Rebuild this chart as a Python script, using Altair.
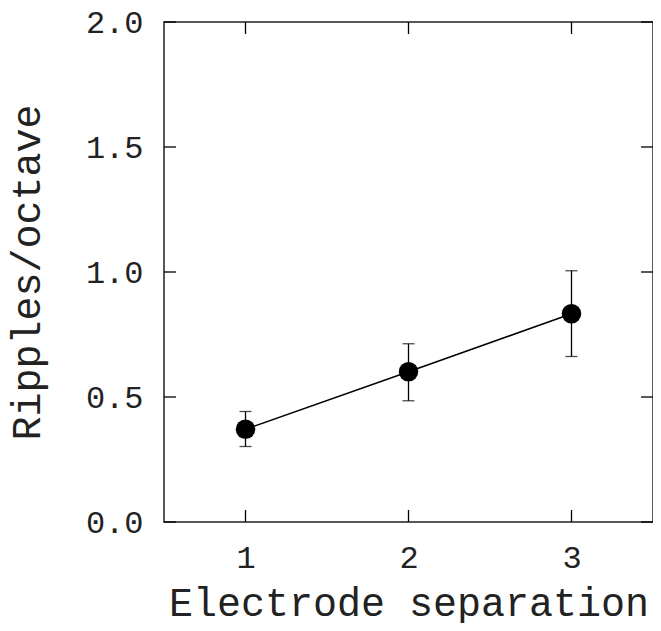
import altair as alt
import pandas as pd

# data
separation = [1, 2, 3]
ripples = [0.371, 0.601, 0.833]
err_low = [0.302, 0.485, 0.662]
err_high = [0.442, 0.713, 1.005]

y_ticks = [0.0, 0.5, 1.0, 1.5, 2.0]
x_ticks = [1, 2, 3]

df = pd.DataFrame({"sep": separation, "rpo": ripples, "lo": err_low, "hi": err_high})
ydf = pd.DataFrame({"v": y_ticks})
xdf = pd.DataFrame({"v": x_ticks})

FONT = "Courier New, Liberation Mono, monospace"
W, H = 489, 500
TL = 12

xscale = alt.Scale(domain=[0.5, 3.5], nice=False, zero=False)
yscale = alt.Scale(domain=[0.0, 2.0], nice=False, zero=False)

xaxis = alt.Axis(values=x_ticks, format="d", ticks=False, tickSize=0, domain=False, grid=False,
                 labelFont=FONT, labelFontSize=32, labelFontWeight="normal", labelColor="#222",
                 labelPadding=20,
                 title="Electrode separation", titleFont=FONT, titleFontSize=40,
                 titleFontWeight="normal", titleColor="#222", titleBaseline="alphabetic",
                 titleY=93)
yaxis = alt.Axis(values=y_ticks, format=".1f", ticks=False, tickSize=0, domain=False, grid=False,
                 labelFont=FONT, labelFontSize=32, labelFontWeight="normal", labelColor="#222",
                 labelPadding=21,
                 title="Ripples/octave", titleFont=FONT, titleFontSize=40,
                 titleFontWeight="normal", titleColor="#222", titleBaseline="alphabetic",
                 titleX=-125)

base = alt.Chart(df)

line = base.mark_line(color="black", strokeWidth=1.5).encode(
    x=alt.X("sep:Q", scale=xscale, axis=xaxis),
    y=alt.Y("rpo:Q", scale=yscale, axis=yaxis),
)
bars = base.mark_rule(color="black", strokeWidth=1.3).encode(
    x=alt.X("sep:Q", scale=xscale), y=alt.Y("lo:Q", scale=yscale), y2="hi:Q"
)
cap_lo = base.mark_tick(color="black", orient="horizontal", size=12, thickness=1.3).encode(
    x=alt.X("sep:Q", scale=xscale), y=alt.Y("lo:Q", scale=yscale)
)
cap_hi = base.mark_tick(color="black", orient="horizontal", size=12, thickness=1.3).encode(
    x=alt.X("sep:Q", scale=xscale), y=alt.Y("hi:Q", scale=yscale)
)
pts = base.mark_circle(color="black", size=380, opacity=1).encode(
    x=alt.X("sep:Q", scale=xscale), y=alt.Y("rpo:Q", scale=yscale)
)

yt = alt.Chart(ydf)
xt = alt.Chart(xdf)
tick_left = yt.mark_rule(color="black", strokeWidth=1.3).encode(
    y=alt.Y("v:Q", scale=yscale), x=alt.value(0), x2=alt.value(TL))
tick_right = yt.mark_rule(color="black", strokeWidth=1.3).encode(
    y=alt.Y("v:Q", scale=yscale), x=alt.value(W - TL), x2=alt.value(W))
tick_bot = xt.mark_rule(color="black", strokeWidth=1.3).encode(
    x=alt.X("v:Q", scale=xscale), y=alt.value(H - TL), y2=alt.value(H))
tick_top = xt.mark_rule(color="black", strokeWidth=1.3).encode(
    x=alt.X("v:Q", scale=xscale), y=alt.value(0), y2=alt.value(TL))

chart = alt.layer(line, bars, cap_lo, cap_hi, pts, tick_left, tick_right, tick_bot, tick_top).properties(
    width=W, height=H,
    background="white",
    autosize=alt.AutoSizeParams(type="none"),
    padding={"left": 156, "top": 14, "right": 0, "bottom": 101},
).configure_view(stroke="#222", strokeWidth=1.5)

chart.save("out.html", embed_options={"renderer": "svg", "actions": False})
